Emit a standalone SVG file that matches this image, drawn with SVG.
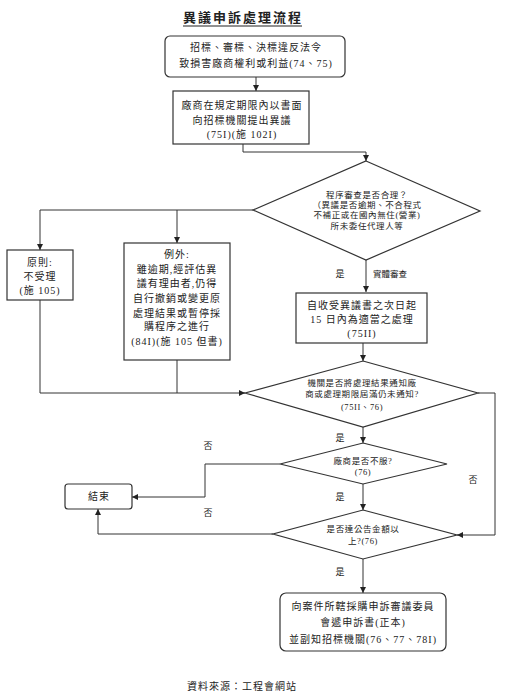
<svg xmlns="http://www.w3.org/2000/svg" width="506" height="700" viewBox="0 0 506 700">
<defs>
<marker id="ar" markerUnits="userSpaceOnUse" markerWidth="7" markerHeight="7" refX="6" refY="3" orient="auto"><path d="M0,0 L6,3 L0,6 z" fill="#222"/></marker>
</defs>
<style>
text{font-family:"Liberation Serif","Noto Sans CJK TC",serif;fill:#222;text-anchor:middle}
.b{fill:#fff;stroke:#333;stroke-width:1.2}
.t{font-size:10px;letter-spacing:1px}
.s{font-size:8.5px;letter-spacing:0.6px}
.l{font-size:9px}
.c{fill:none;stroke:#333;stroke-width:1}
.a{marker-end:url(#ar)}
</style>
<rect width="506" height="700" fill="#fff"/>
<g id="title">
<text x="243" y="22" style="font-size:13px;font-weight:bold;letter-spacing:2px">異議申訴處理流程</text>
<line x1="183" y1="26" x2="302" y2="26" stroke="#222" stroke-width="1.2"/>
</g>
<g id="connectors">
<path class="c a" d="M256,77 V91"/>
<path class="c a" d="M243,144 V152 H366 V161"/>
<path class="c a" d="M253,210 H40 V250"/>
<path class="c a" d="M177,210 V243"/>
<path class="c a" d="M366,260 V292"/>
<path class="c a" d="M40,300 V393 H245"/>
<path class="c" d="M177,360 V393"/>
<path class="c a" d="M363,343 V361"/>
<path class="c a" d="M478,393 H495 V535 H457"/>
<path class="c a" d="M363,427 V443"/>
<path class="c a" d="M280,464 H205 V497 H132"/>
<path class="c a" d="M363,484 V510"/>
<path class="c a" d="M273,534 H98 V509"/>
<path class="c a" d="M363,559 V593"/>
</g>
<g id="labels" class="l">
<text x="340" y="277">是</text>
<text x="390" y="277" style="font-size:8.5px">實體審查</text>
<text x="340" y="441">是</text>
<text x="208" y="449">否</text>
<text x="473" y="483">否</text>
<text x="340" y="500">是</text>
<text x="208" y="516">否</text>
<text x="340" y="575">是</text>
</g>
<g id="n1">
<rect class="b" x="165" y="36" width="180" height="41" rx="5"/>
<text class="t" x="256" y="51">招標、審標、決標違反法令</text>
<text class="t" x="256" y="67">致損害廠商權利或利益(74、75)</text>
</g>
<g id="n2">
<rect class="b" x="173" y="91" width="136" height="53"/>
<text class="t" x="242" y="109">廠商在規定期限內以書面</text>
<text class="t" x="242" y="124">向招標機關提出異議</text>
<text class="t" x="242" y="138">(75I)(施 102I)</text>
</g>
<g id="d1">
<polygon class="b" points="366,161 480,211 366,260 253,210"/>
<text class="s" x="367" y="198">程序審查是否合理？</text>
<text class="s" x="367" y="208">（異議是否逾期、不合程式</text>
<text class="s" x="367" y="218">不補正或在國內無住(營業)</text>
<text class="s" x="367" y="229">所未委任代理人等</text>
</g>
<g id="n3">
<rect class="b" x="7" y="250" width="66" height="50"/>
<text class="t" x="40" y="266">原則:</text>
<text class="t" x="40" y="280">不受理</text>
<text class="t" x="40" y="294">(施 105)</text>
</g>
<g id="n4">
<rect class="b" x="124" y="243" width="106" height="117"/>
<text class="t" x="177" y="258">例外:</text>
<text class="t" x="177" y="273">雖逾期,經評估異</text>
<text class="t" x="177" y="287">議有理由者,仍得</text>
<text class="t" x="177" y="302">自行撤銷或變更原</text>
<text class="t" x="177" y="317">處理結果或暫停採</text>
<text class="t" x="177" y="330">購程序之進行</text>
<text class="t" x="177" y="345">(84I)(施 105 但書)</text>
</g>
<g id="n5">
<rect class="b" x="296" y="293" width="131" height="50"/>
<text class="t" x="362" y="309">自收受異議書之次日起</text>
<text class="t" x="362" y="323">15 日內為適當之處理</text>
<text class="t" x="362" y="337">(75II)</text>
</g>
<g id="d2">
<polygon class="b" points="363,361 478,393 363,427 245,393"/>
<text class="s" x="362" y="386">機關是否將處理結果通知廠</text>
<text class="s" x="362" y="397">商或處理期限屆滿仍未通知?</text>
<text class="s" x="362" y="410">(75II、76)</text>
</g>
<g id="d3">
<polygon class="b" points="363,443 447,464 363,484 280,464"/>
<text class="s" x="363" y="464">廠商是否不服?</text>
<text class="s" x="363" y="475">(76)</text>
</g>
<g id="n6">
<rect class="b" x="65" y="484" width="67" height="25" rx="3"/>
<text class="t" x="99" y="500">結束</text>
</g>
<g id="d4">
<polygon class="b" points="363,510 457,535 363,559 273,534"/>
<text class="s" x="363" y="532">是否達公告金額以</text>
<text class="s" x="363" y="544">上?(76)</text>
</g>
<g id="n7">
<rect class="b" x="280" y="593" width="166" height="58" rx="6"/>
<text class="t" x="363" y="610">向案件所轄採購申訴審議委員</text>
<text class="t" x="363" y="626">會遞申訴書(正本)</text>
<text class="t" x="363" y="643">並副知招標機關(76、77、78I)</text>
</g>
<g id="source">
<text class="t" x="242" y="690">資料來源：工程會網站</text>
</g>
</svg>
